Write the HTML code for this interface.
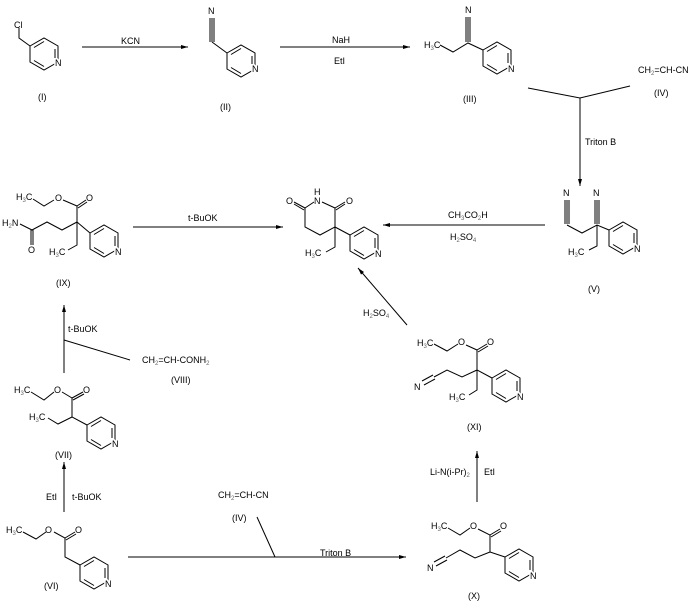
<!DOCTYPE html>
<html><head><meta charset="utf-8"><style>
html,body{margin:0;padding:0;background:#fff;}
svg{display:block;}
text{font-family:"Liberation Sans",sans-serif;font-size:9px;fill:#000;}
.s{font-size:6px;fill:#666;}
.n{stroke:#fff;stroke-width:3px;paint-order:stroke;}
line,polyline,polygon{stroke:#000;stroke-width:1;fill:none;}
</style></head><body>
<svg width="690" height="602" viewBox="0 0 690 602" xmlns="http://www.w3.org/2000/svg">
<defs>
<g id="py">
<polygon points="0,0 14,-8 28,0 28,16 14,24 0,16"/>
<line x1="4" y1="1.5" x2="14" y2="-4.5"/>
<line x1="25" y1="3" x2="25" y2="13"/>
<line x1="4" y1="14.5" x2="14" y2="20.5"/>
</g>
<marker id="ah" markerWidth="7" markerHeight="4" refX="7" refY="2" orient="auto" markerUnits="userSpaceOnUse">
<polygon points="0,0 7,2 0,4" style="fill:#000;stroke:none"/>
</marker>
</defs>

<!-- (I) -->
<polyline points="19,28 19,38 30,46"/>
<use href="#py" x="30" y="46"/>
<text x="14" y="28">Cl</text>
<text x="55" y="66" class="n">N</text>
<text x="38" y="100">(I)</text>

<line x1="82" y1="47" x2="188" y2="47" marker-end="url(#ah)"/>
<text x="121" y="44">KCN</text>

<!-- (II) -->
<line x1="227" y1="53" x2="212" y2="42"/>
<line x1="210" y1="42" x2="210" y2="18"/><line x1="212" y1="42" x2="212" y2="18"/><line x1="214" y1="42" x2="214" y2="18"/>
<text x="208" y="14">N</text>
<use href="#py" x="227" y="53"/>
<text x="252" y="72" class="n">N</text>
<text x="220" y="110">(II)</text>

<line x1="280" y1="47" x2="410" y2="47" marker-end="url(#ah)"/>
<text x="332" y="43">NaH</text>
<text x="334" y="64">EtI</text>

<!-- (III) -->
<polyline points="440,45 453,52 468,43 483,50"/>
<line x1="466" y1="42" x2="466" y2="17"/><line x1="468" y1="42" x2="468" y2="17"/><line x1="470" y1="42" x2="470" y2="17"/>
<text x="465" y="13">N</text>
<text x="424" y="48">H<tspan class="s" dy="2">3</tspan><tspan dy="-2">C</tspan></text>
<use href="#py" x="483" y="50"/>
<text x="508" y="72" class="n">N</text>
<text x="463" y="102">(III)</text>

<text x="638" y="73">CH<tspan class="s" dy="2">2</tspan><tspan dy="-2">=CH-CN</tspan></text>
<text x="654" y="96">(IV)</text>
<polyline points="528,88 580,98 630,86"/>
<line x1="580" y1="98" x2="580" y2="186" marker-end="url(#ah)"/>
<text x="585" y="145">Triton  B</text>

<!-- (V) -->
<polyline points="567,225 582,233 597,225 609,230"/>
<line x1="565" y1="224" x2="565" y2="200"/><line x1="567" y1="224" x2="567" y2="200"/><line x1="569" y1="224" x2="569" y2="200"/>
<line x1="595" y1="224" x2="595" y2="200"/><line x1="597" y1="224" x2="597" y2="200"/><line x1="599" y1="224" x2="599" y2="200"/>
<text x="563" y="196">N</text><text x="593" y="196">N</text>
<polyline points="597,225 597,246 589,250"/>
<text x="568" y="255">H<tspan class="s" dy="2">3</tspan><tspan dy="-2">C</tspan></text>
<use href="#py" x="609" y="230"/>
<text x="634" y="252" class="n">N</text>
<text x="588" y="292">(V)</text>

<line x1="545" y1="225" x2="383" y2="225" marker-end="url(#ah)"/>
<text x="448" y="218">CH<tspan class="s" dy="2">3</tspan><tspan dy="-2">CO</tspan><tspan class="s" dy="2">2</tspan><tspan dy="-2">H</tspan></text>
<text x="450" y="240">H<tspan class="s" dy="2">2</tspan><tspan dy="-2">SO</tspan><tspan class="s" dy="2">4</tspan></text>

<!-- product -->
<polyline points="314,202 305,208 305,227 320,235 335,227 335,208 322,202"/>
<line x1="305" y1="208" x2="294" y2="202"/><line x1="304" y1="210" x2="294" y2="204"/>
<line x1="335" y1="208" x2="345" y2="202"/><line x1="336" y1="210" x2="345" y2="204"/>
<text x="286" y="204">O</text><text x="346" y="204">O</text>
<text x="314" y="204">N</text><text x="314" y="195">H</text>
<line x1="335" y1="227" x2="350" y2="235"/>
<polyline points="335,227 335,247 326,252"/>
<text x="305" y="256">H<tspan class="s" dy="2">3</tspan><tspan dy="-2">C</tspan></text>
<use href="#py" x="350" y="235"/>
<text x="375" y="257" class="n">N</text>

<!-- (IX) -->
<text x="16" y="200">H<tspan class="s" dy="2">3</tspan><tspan dy="-2">C</tspan></text>
<polyline points="33,199 44,206 54,200"/>
<text x="55" y="201">O</text>
<polyline points="63,200 77,206 77,225"/>
<line x1="77" y1="206" x2="86" y2="200"/><line x1="78" y1="208" x2="87" y2="202"/>
<text x="86" y="201">O</text>
<text x="2" y="226">H<tspan class="s" dy="2">2</tspan><tspan dy="-2">N</tspan></text>
<polyline points="20,224 32,230 47,222 62,230 77,222"/>
<line x1="31" y1="230" x2="31" y2="245"/><line x1="33" y1="230" x2="33" y2="245"/>
<text x="28" y="253">O</text>
<polyline points="77,222 77,245 68,250"/>
<text x="49" y="255">H<tspan class="s" dy="2">3</tspan><tspan dy="-2">C</tspan></text>
<line x1="77" y1="222" x2="90" y2="233"/>
<use href="#py" x="90" y="233"/>
<text x="115" y="255" class="n">N</text>
<text x="56" y="286">(IX)</text>

<line x1="133" y1="227" x2="283" y2="227" marker-end="url(#ah)"/>
<text x="188" y="221">t-BuOK</text>

<line x1="64" y1="373" x2="64" y2="305" marker-end="url(#ah)"/>
<text x="68" y="332">t-BuOK</text>
<line x1="64" y1="340" x2="130" y2="360"/>
<text x="142" y="363">CH<tspan class="s" dy="2">2</tspan><tspan dy="-2">=CH-CONH</tspan><tspan class="s" dy="2">2</tspan></text>
<text x="171" y="383">(VIII)</text>

<!-- (VII) -->
<text x="14" y="393">H<tspan class="s" dy="2">3</tspan><tspan dy="-2">C</tspan></text>
<polyline points="31,392 44,400 54,392"/>
<text x="54" y="393">O</text>
<polyline points="62,392 72,398 72,417 87,425"/>
<line x1="72" y1="398" x2="83" y2="392"/><line x1="73" y1="400" x2="84" y2="394"/>
<text x="83" y="393">O</text>
<polyline points="72,417 58,424 48,418"/>
<text x="29" y="420">H<tspan class="s" dy="2">3</tspan><tspan dy="-2">C</tspan></text>
<use href="#py" x="87" y="425"/>
<text x="112" y="447" class="n">N</text>
<text x="55" y="458">(VII)</text>

<line x1="64" y1="512" x2="64" y2="462" marker-end="url(#ah)"/>
<text x="46" y="500">EtI</text>
<text x="72" y="500">t-BuOK</text>

<!-- (VI) -->
<text x="6" y="533">H<tspan class="s" dy="2">3</tspan><tspan dy="-2">C</tspan></text>
<polyline points="23,532 36,539 46,532"/>
<text x="45" y="533">O</text>
<polyline points="54,532 65,538 65,557 80,565"/>
<line x1="65" y1="538" x2="75" y2="532"/><line x1="66" y1="540" x2="76" y2="534"/>
<text x="75" y="533">O</text>
<use href="#py" x="80" y="565"/>
<text x="105" y="587" class="n">N</text>
<text x="44" y="589">(VI)</text>

<line x1="128" y1="557" x2="406" y2="557" marker-end="url(#ah)"/>
<line x1="275" y1="557" x2="257" y2="517"/>
<text x="218" y="498">CH<tspan class="s" dy="2">2</tspan><tspan dy="-2">=CH-CN</tspan></text>
<text x="232" y="521">(IV)</text>
<text x="320" y="556">Triton  B</text>

<!-- (X) -->
<text x="431" y="529">H<tspan class="s" dy="2">3</tspan><tspan dy="-2">C</tspan></text>
<polyline points="448,528 460,535 470,528"/>
<text x="470" y="529">O</text>
<polyline points="478,529 490,535 490,552 505,557"/>
<line x1="490" y1="535" x2="500" y2="529"/><line x1="491" y1="537" x2="501" y2="531"/>
<text x="500" y="529">O</text>
<polyline points="490,552 475,558 460,550 446,558"/>
<line x1="445" y1="556" x2="434" y2="562"/><line x1="447" y1="560" x2="436" y2="566"/>
<text x="427" y="571">N</text>
<use href="#py" x="505" y="557"/>
<text x="530" y="579" class="n">N</text>
<text x="468" y="599">(X)</text>

<line x1="477" y1="502" x2="477" y2="451" marker-end="url(#ah)"/>
<text x="430" y="475">Li-N(i-Pr)<tspan class="s" dy="2">2</tspan></text>
<text x="484" y="475">EtI</text>

<!-- (XI) -->
<text x="417" y="346">H<tspan class="s" dy="2">3</tspan><tspan dy="-2">C</tspan></text>
<polyline points="434,344 447,351 458,344"/>
<text x="458" y="345">O</text>
<polyline points="466,345 477,350 477,370 492,378"/>
<line x1="477" y1="350" x2="487" y2="344"/><line x1="478" y1="352" x2="488" y2="346"/>
<text x="487" y="345">O</text>
<polyline points="477,370 462,377 447,370 434,377"/>
<line x1="433" y1="375" x2="422" y2="381"/><line x1="435" y1="379" x2="424" y2="385"/>
<text x="414" y="390">N</text>
<polyline points="477,370 477,390 469,395"/>
<text x="449" y="400">H<tspan class="s" dy="2">3</tspan><tspan dy="-2">C</tspan></text>
<use href="#py" x="492" y="378"/>
<text x="517" y="400" class="n">N</text>
<text x="467" y="430">(XI)</text>

<line x1="407" y1="325" x2="358" y2="268" marker-end="url(#ah)"/>
<text x="363" y="316">H<tspan class="s" dy="2">2</tspan><tspan dy="-2">SO</tspan><tspan class="s" dy="2">4</tspan></text>
</svg>
</body></html>
